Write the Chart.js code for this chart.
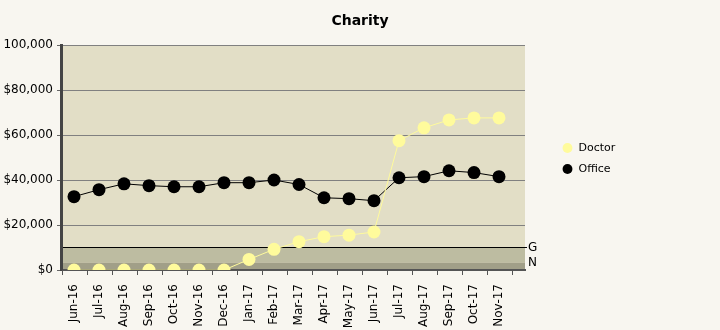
<!DOCTYPE html>
<html>
<head>
<meta charset="utf-8">
<script src="https://cdn.jsdelivr.net/npm/chart.js@4.4.1/dist/chart.umd.min.js"></script>
<style>
  html, body { margin: 0; padding: 0; background: #f8f6f0; }
  canvas { display: block; }
</style>
</head>
<body>
<canvas id="chart" width="720" height="330"></canvas>
<script>
// Monthly charity amounts
const months = ['Jun-16', 'Jul-16', 'Aug-16', 'Sep-16', 'Oct-16', 'Nov-16', 'Dec-16',
                'Jan-17', 'Feb-17', 'Mar-17', 'Apr-17', 'May-17', 'Jun-17',
                'Jul-17', 'Aug-17', 'Sep-17', 'Oct-17', 'Nov-17'];
const doctor = [0, 0, 0, 0, 0, 0, 0, 4700, 9200, 12600, 14800, 15500, 16900,
                57500, 63200, 66700, 67600, 67600];
const office = [32600, 35700, 38300, 37500, 37000, 37000, 38800, 38800, 40000, 38000,
                32100, 31700, 30800, 41000, 41500, 44100, 43300, 41500];

// Value axis ticks
const yTickValues = [0, 20000, 40000, 60000, 80000, 100000];
const yTickLabels = ['$0', '$20,000', '$40,000', '$60,000', '$80,000', '100,000'];

// Threshold bands shown at the bottom of the plot
const bandValues = [0, 3333, 10000];
const bandLabels = ['', 'N', 'G'];
const bandColors = ['#a19f88', '#bdbca1'];
const limitValue = 10000;

const plotBackground = {
  id: 'plotBackground',
  beforeDraw(chart) {
    const { ctx, chartArea: a, scales: { y } } = chart;
    ctx.save();
    ctx.fillStyle = '#e2dec6';
    ctx.fillRect(a.left, a.top, a.width, a.height);
    for (let i = 0; i < bandColors.length; i++) {
      const y0 = y.getPixelForValue(bandValues[i]);
      const y1 = y.getPixelForValue(bandValues[i + 1]);
      ctx.fillStyle = bandColors[i];
      ctx.fillRect(a.left, y1, a.width, y0 - y1);
    }
    ctx.restore();
  }
};

// Small tick marks between the month categories
const monthTicks = {
  id: 'monthTicks',
  afterDraw(chart) {
    const { ctx, chartArea: a, scales: { x } } = chart;
    ctx.save();
    ctx.strokeStyle = '#555';
    ctx.lineWidth = 1;
    ctx.beginPath();
    for (let i = 0; i <= months.length; i++) {
      const px = Math.round(x.getPixelForValue(i - 0.5)) + 0.5;
      ctx.moveTo(px, a.bottom);
      ctx.lineTo(px, a.bottom + 5);
    }
    ctx.stroke();
    ctx.restore();
  }
};

// Put the legend just right of the threshold labels
const legendSpot = {
  id: 'legendSpot',
  afterLayout(chart) {
    const lg = chart.legend;
    const a = chart.chartArea;
    lg.left = a.right + 27;
    lg.right = lg.left + lg.width;
    lg.top = a.top;
    lg.bottom = a.bottom + 2;
  }
};

Chart.defaults.font.family = "'DejaVu Sans', Verdana, sans-serif";
Chart.defaults.color = '#000';

new Chart(document.getElementById('chart'), {
  type: 'line',
  data: {
    datasets: [
      {
        label: 'Doctor',
        data: doctor.map((v, i) => ({ x: i, y: v })),
        borderColor: '#fffb9c',
        backgroundColor: '#fffb9c',
        pointBackgroundColor: '#fffb9c',
        borderWidth: 1,
        pointRadius: 6.5,
        pointHoverRadius: 6.5,
        pointBorderWidth: 0,
        tension: 0,
        yAxisID: 'y'
      },
      {
        label: 'Office',
        data: office.map((v, i) => ({ x: i, y: v })),
        borderColor: '#000',
        backgroundColor: '#000',
        pointBackgroundColor: '#000',
        borderWidth: 1,
        pointRadius: 6.5,
        pointHoverRadius: 6.5,
        pointBorderWidth: 0,
        tension: 0,
        yAxisID: 'y'
      }
    ]
  },
  options: {
    responsive: false,
    animation: false,
    devicePixelRatio: 1,
    layout: { padding: 0 },
    scales: {
      x: {
        type: 'linear',
        min: -0.52,
        max: 18.04,
        afterBuildTicks: s => { s.ticks = months.map((_, i) => ({ value: i })); },
        afterFit: s => { s.height = 60; },
        ticks: {
          callback: v => months[v],
          minRotation: 90,
          maxRotation: 90,
          autoSkip: false,
          padding: 6,
          font: { size: 12 }
        },
        grid: { display: false },
        border: { display: true, color: '#555', width: 2 }
      },
      y: {
        position: 'left',
        min: 0,
        max: 100000,
        afterBuildTicks: s => { s.ticks = yTickValues.map(v => ({ value: v })); },
        afterFit: s => { s.width = 61; },
        ticks: {
          callback: v => yTickLabels[yTickValues.indexOf(v)],
          padding: 4,
          font: { size: 12 }
        },
        grid: { color: '#808080', lineWidth: 1, tickLength: 4, tickColor: '#666' },
        border: { color: '#444', width: 3 }
      },
      y2: {
        position: 'right',
        min: 0,
        max: 100000,
        afterBuildTicks: s => { s.ticks = bandValues.map(v => ({ value: v })); },
        afterFit: s => { s.width = 195; },
        ticks: {
          callback: v => bandLabels[bandValues.indexOf(v)],
          padding: 1,
          font: { size: 12 }
        },
        grid: {
          color: c => (c.tick && c.tick.value === limitValue) ? '#000' : 'rgba(0,0,0,0)',
          lineWidth: 1,
          tickLength: 2
        },
        border: { display: false }
      }
    },
    plugins: {
      title: {
        display: true,
        text: 'Charity',
        color: '#000',
        font: { size: 14, weight: 'bold' },
        padding: { top: 13, bottom: 15.2 }
      },
      legend: {
        position: 'chartArea',
        align: 'center',
        labels: {
          usePointStyle: true,
          pointStyle: 'circle',
          boxWidth: 11,
          boxHeight: 7,
          padding: 10,
          color: '#000',
          font: { size: 11 }
        }
      },
      tooltip: { enabled: false }
    }
  },
  plugins: [plotBackground, monthTicks, legendSpot]
});
</script>
</body>
</html>
